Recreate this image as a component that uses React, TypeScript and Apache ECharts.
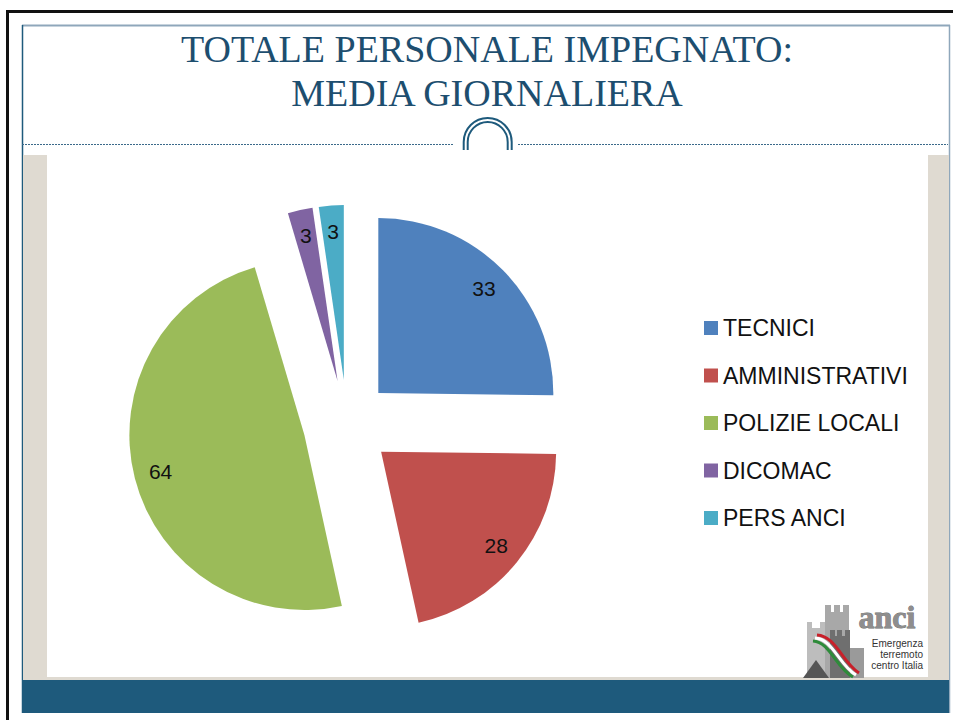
import React, { useEffect, useRef } from "react";
import * as echarts from "echarts";

const categories = ["TECNICI", "AMMINISTRATIVI", "POLIZIE LOCALI", "DICOMAC", "PERS ANCI"];
const values = [33, 28, 64, 3, 3];
const colors = ["#4F81BD", "#C0504D", "#9BBB59", "#8064A2", "#4BACC6"];
const titleLines = ["TOTALE PERSONALE IMPEGNATO:", "MEDIA GIORNALIERA"];
const logoLines = ["Emergenza", "terremoto", "centro Italia"];

export default function App() {
  const ref = useRef<HTMLDivElement>(null);
  useEffect(() => {
    if (!ref.current) return;
    const chart = echarts.init(ref.current, null, { renderer: "svg" });
    const blue = "#1E5A7C";
    const data = categories.map((name, i) => ({
      name,
      value: values[i],
      selected: true,
      itemStyle: { color: colors[i] },
    }));
    const graphic: any[] = [
      // outer black frame
      { type: "rect", z: -10, shape: { x: 6, y: 10, width: 3, height: 710 }, style: { fill: "#111" } },
      { type: "rect", z: -10, shape: { x: 6, y: 10, width: 947, height: 3 }, style: { fill: "#111" } },
      // inner slide border
      { type: "line", z: -10, shape: { x1: 22, y1: 25.5, x2: 950, y2: 25.5 }, style: { stroke: "#8FA7BB", lineWidth: 2 } },
      { type: "line", z: -10, shape: { x1: 949.5, y1: 25, x2: 949.5, y2: 713 }, style: { stroke: "#8FA7BB", lineWidth: 1.5 } },
      { type: "line", z: -10, shape: { x1: 22.5, y1: 25, x2: 22.5, y2: 713 }, style: { stroke: blue, lineWidth: 1.5 } },
      // dotted separator
      { type: "line", z: -10, shape: { x1: 22, y1: 144.5, x2: 454, y2: 144.5 }, style: { stroke: "#3B6A8A", lineWidth: 1, lineDash: [2, 1] } },
      { type: "line", z: -10, shape: { x1: 518, y1: 144.5, x2: 948, y2: 144.5 }, style: { stroke: "#3B6A8A", lineWidth: 1, lineDash: [2, 1] } },
      // ornament
      { type: "arc", z: -9, shape: { cx: 487.7, cy: 142, r: 24, startAngle: Math.PI, endAngle: 2 * Math.PI }, style: { stroke: blue, lineWidth: 2, fill: "none" } },
      { type: "arc", z: -9, shape: { cx: 487.7, cy: 142, r: 20, startAngle: Math.PI, endAngle: 2 * Math.PI }, style: { stroke: blue, lineWidth: 2, fill: "none" } },
      { type: "line", z: -9, shape: { x1: 463.7, y1: 142, x2: 463.7, y2: 150 }, style: { stroke: blue, lineWidth: 2 } },
      { type: "line", z: -9, shape: { x1: 511.7, y1: 142, x2: 511.7, y2: 150 }, style: { stroke: blue, lineWidth: 2 } },
      { type: "line", z: -9, shape: { x1: 467.7, y1: 142, x2: 467.7, y2: 150 }, style: { stroke: blue, lineWidth: 2 } },
      { type: "line", z: -9, shape: { x1: 507.7, y1: 142, x2: 507.7, y2: 150 }, style: { stroke: blue, lineWidth: 2 } },
      // content background
      { type: "rect", z: -8, shape: { x: 23, y: 155, width: 926, height: 525 }, style: { fill: "#DFDAD1" } },
      { type: "rect", z: -7, shape: { x: 47, y: 155, width: 881, height: 522 }, style: { fill: "#FFFFFF" } },
      { type: "rect", z: -7, shape: { x: 22, y: 680, width: 927, height: 33 }, style: { fill: blue } },
      // title
      ...titleLines.map((t, i) => ({
        type: "text",
        z: 5,
        x: 487,
        y: 49 + i * 44,
        style: {
          text: t,
          fill: "#1D4E6F",
          font: "38px 'Liberation Serif'",
          textAlign: "center",
          textVerticalAlign: "middle",
        },
      })),
      // logo: towers
      { type: "rect", z: 5, shape: { x: 807, y: 628, width: 18, height: 50 }, style: { fill: "#BDBDBD" } },
      { type: "rect", z: 5, shape: { x: 807, y: 622, width: 5, height: 7 }, style: { fill: "#BDBDBD" } },
      { type: "rect", z: 5, shape: { x: 820, y: 622, width: 5, height: 7 }, style: { fill: "#BDBDBD" } },
      { type: "rect", z: 5, shape: { x: 825, y: 612, width: 24, height: 66 }, style: { fill: "#A8A8A8" } },
      { type: "rect", z: 5, shape: { x: 825, y: 605, width: 6, height: 8 }, style: { fill: "#A8A8A8" } },
      { type: "rect", z: 5, shape: { x: 834, y: 605, width: 6, height: 8 }, style: { fill: "#A8A8A8" } },
      { type: "rect", z: 5, shape: { x: 843, y: 605, width: 6, height: 8 }, style: { fill: "#A8A8A8" } },
      { type: "rect", z: 6, shape: { x: 830, y: 636, width: 20, height: 42 }, style: { fill: "#6F6F6F" } },
      { type: "rect", z: 6, shape: { x: 830, y: 630, width: 5, height: 7 }, style: { fill: "#6F6F6F" } },
      { type: "rect", z: 6, shape: { x: 837, y: 630, width: 5, height: 7 }, style: { fill: "#6F6F6F" } },
      { type: "rect", z: 6, shape: { x: 845, y: 630, width: 5, height: 7 }, style: { fill: "#6F6F6F" } },
      { type: "rect", z: 6, shape: { x: 850, y: 648, width: 14, height: 30 }, style: { fill: "#9A9A9A" } },
      { type: "polygon", z: 6, shape: { points: [[803, 678], [816, 660], [829, 678]] }, style: { fill: "#555" } },
      // tricolor ribbon
      { type: "bezierCurve", z: 7, shape: { x1: 813, y1: 641, x2: 853, y2: 677, cpx1: 830, cpy1: 642, cpx2: 836, cpy2: 668 }, style: { stroke: "#2E8B3A", lineWidth: 3, fill: "none" } },
      { type: "bezierCurve", z: 7, shape: { x1: 815, y1: 638, x2: 856, y2: 675, cpx1: 833, cpy1: 639, cpx2: 839, cpy2: 665 }, style: { stroke: "#FFFFFF", lineWidth: 3, fill: "none" } },
      { type: "bezierCurve", z: 7, shape: { x1: 817, y1: 635, x2: 859, y2: 673, cpx1: 836, cpy1: 636, cpx2: 842, cpy2: 662 }, style: { stroke: "#C8202A", lineWidth: 3, fill: "none" } },
      {
        type: "text",
        z: 7,
        x: 887,
        y: 617,
        style: { text: "anci", fill: "#8E8E8E", stroke: "#6A6A6A", lineWidth: 0.8, font: "bold 32px 'Liberation Serif'", textAlign: "center", textVerticalAlign: "middle" },
      },
      ...logoLines.map((t, i) => ({
        type: "text",
        z: 7,
        x: 923,
        y: 643 + i * 11,
        style: { text: t, fill: "#333", font: "10px 'Liberation Sans'", textAlign: "right", textVerticalAlign: "middle" },
      })),
    ];

    chart.setOption({
      animation: false,
      backgroundColor: "#FFFFFF",
      graphic,
      legend: {
        orient: "vertical",
        left: 699,
        top: 309,
        icon: "rect",
        itemWidth: 14,
        itemHeight: 14,
        itemGap: 19.5,
        selectedMode: false,
        data: categories,
        textStyle: { fontSize: 23, lineHeight: 28, color: "#111", fontFamily: "Liberation Sans" },
      },
      series: [
        {
          type: "pie",
          center: [347, 424],
          radius: 175,
          startAngle: 90,
          clockwise: true,
          selectedMode: "multiple",
          selectedOffset: 44,
          label: { show: false },
          labelLine: { show: false },
          emphasis: { disabled: true },
          select: { itemStyle: { borderWidth: 0 } },
          data,
        },
        {
          type: "pie",
          center: [347, 424],
          radius: [116, 175],
          startAngle: 90,
          clockwise: true,
          silent: true,
          selectedMode: "multiple",
          selectedOffset: 44,
          emphasis: { disabled: true },
          itemStyle: { color: "rgba(0,0,0,0)" },
          label: {
            show: true,
            position: "inside",
            formatter: "{c}",
            fontSize: 21,
            color: "#111",
            fontFamily: "Liberation Sans",
          },
          labelLine: { show: false },
          data: categories.map((name, i) => ({
            name,
            value: values[i],
            selected: true,
            itemStyle: { color: "rgba(0,0,0,0)" },
            label: name === "POLIZIE LOCALI" ? { offset: [10, 16] } : undefined,
          })),
        },
      ],
    });
    return () => chart.dispose();
  }, []);
  return (
    <div
      ref={ref}
      style={{ position: "fixed", left: 0, top: 0, width: 953, height: 720, background: "#fff" }}
    />
  );
}
